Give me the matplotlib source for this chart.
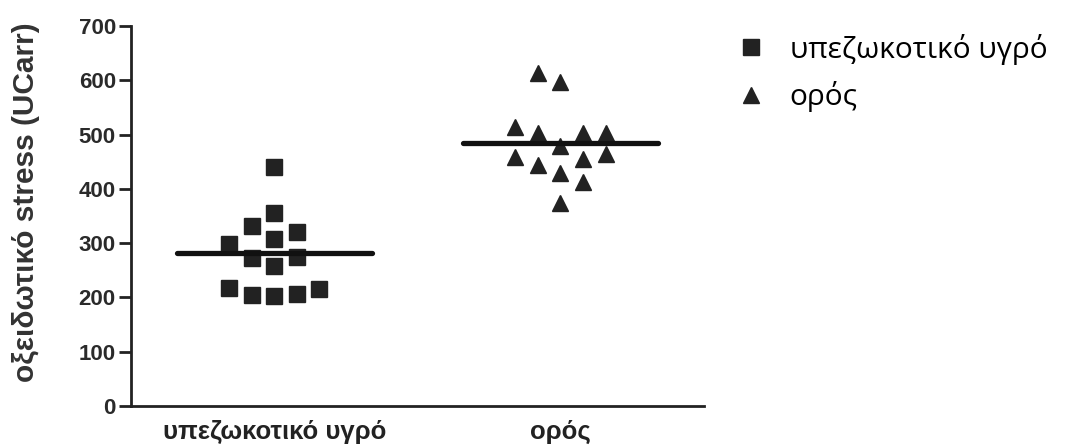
import matplotlib
matplotlib.use("Agg")
import matplotlib.pyplot as plt
from matplotlib.lines import Line2D

# groups
groups = ["υπεζωκοτικό υγρό", "ορός"]

# values (UCarr) with their column slot in the scatter
pleural_values = [441, 355, 331, 321, 308, 298, 272, 274, 258, 218, 204, 203, 206, 215]
pleural_slots = [0, 0, -1, 1, 0, -2, -1, 1, 0, -2, -1, 0, 1, 2]
serum_values = [614, 597, 514, 503, 478, 503, 503, 459, 444, 454, 465, 430, 413, 374]
serum_slots = [-1, 0, -2, -1, 0, 1, 2, -2, -1, 1, 2, 0, 1, 0]
group_means = [281, 484]

y_ticks = [0, 100, 200, 300, 400, 500, 600, 700]

mark_color = "#222222"
slot_step = 0.079

fig = plt.figure(figsize=(10.66, 4.48), dpi=100)
ax = fig.add_axes([0.123, 0.094, 0.537, 0.848])

ax.plot([0 + s * slot_step for s in pleural_slots], pleural_values,
        linestyle="none", marker="s", markersize=12, color=mark_color)
ax.plot([1 + s * slot_step for s in serum_slots], serum_values,
        linestyle="none", marker="^", markersize=12, color=mark_color)

# mean lines
for i, m in enumerate(group_means):
    ax.plot([i - 0.34, i + 0.34], [m, m], color="#111111", linewidth=3.8,
            solid_capstyle="round")

ax.set_xlim(-0.5, 1.5)
ax.set_ylim(0, 700)
ax.set_yticks(y_ticks)
ax.set_yticklabels([str(t) for t in y_ticks], fontsize=16, fontweight="bold",
                   family="Liberation Sans", color="#2a2a2a")
ax.set_xticks([0, 1])
ax.set_xticklabels(groups, fontsize=18.5, fontweight="bold",
                   family="Liberation Sans", color="#222222")
ax.tick_params(axis="x", length=0, pad=10)
ax.tick_params(axis="y", length=9, width=2, pad=2, color="#222222")

for side in ["top", "right"]:
    ax.spines[side].set_visible(False)
for side in ["left", "bottom"]:
    ax.spines[side].set_linewidth(2)
    ax.spines[side].set_color("#222222")

ax.set_ylabel("οξειδωτικό stress (UCarr)", fontsize=21.5, fontweight="bold",
              family="Liberation Sans", color="#333333", labelpad=6)
ax.yaxis.set_label_coords(-0.16, 0.535)

handles = [
    Line2D([], [], linestyle="none", marker="s", markersize=12, color=mark_color),
    Line2D([], [], linestyle="none", marker="^", markersize=11, color=mark_color),
]
fig.legend(handles, groups, loc="upper left", bbox_to_anchor=(0.665, 0.985),
           frameon=False, prop={"family": "Open Sans", "size": 21.5},
           handletextpad=0.8, labelspacing=0.55, handlelength=1.0)

fig.savefig("out.png", dpi=100)
